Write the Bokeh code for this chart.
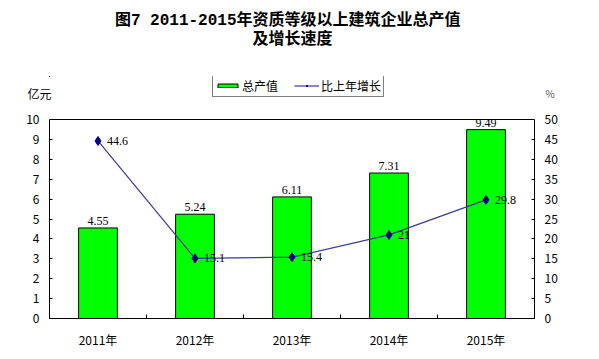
from bokeh.plotting import figure
from bokeh.layouts import column
from bokeh.models import (ColumnDataSource, Range1d, LinearAxis, FixedTicker,
                          LabelSet, Label, Legend, LegendItem, Span)
from bokeh.embed import file_html
from bokeh.resources import INLINE

years = ["2011年", "2012年", "2013年", "2014年", "2015年"]
output = [4.55, 5.24, 6.11, 7.31, 9.49]
growth = [44.6, 15.1, 15.4, 21.0, 29.8]
left_ticks = list(range(0, 11))
right_ticks = list(range(0, 51, 5))
left_max = 10
right_max = 50
title_line1 = "图7  2011-2015年资质等级以上建筑企业总产值"
title_line2 = "及增长速度"

CJK = "Noto Sans CJK SC"
MONO = "Liberation Mono"
TITLE_FONT = "'Liberation Mono', 'Noto Sans CJK SC'"
BAR_FILL = "#00FF00"
LINE_COL = "#3b3b96"
MARK_COL = "#000080"

W = 599
TOP_H = 60           # title strip
HEAD_TOP = 76        # page y where the legend row starts
HEAD_END = 110       # page y where the main chart starts
MAIN_H = 359 - HEAD_END
FRAME_LEFT = 49
FRAME_RIGHT = 534
FRAME_TOP = 119      # page y of the value-10 line
FRAME_BOTTOM = 318   # page y of the zero line

xs = list(range(len(years)))
src = ColumnDataSource(dict(
    x=xs, out=output, gr=growth,
    out_txt=["%.2f" % v for v in output],
    gr_txt=["%g" % v for v in growth],
))


def strip(height, y_top, y_bottom, border_top):
    f = figure(width=W, height=height, output_backend="svg", toolbar_location=None,
               x_range=Range1d(FRAME_LEFT, FRAME_RIGHT),
               y_range=Range1d(y_bottom, y_top),
               x_axis_location=None, y_axis_location=None,
               min_border_left=FRAME_LEFT, min_border_right=W - FRAME_RIGHT,
               min_border_top=border_top, min_border_bottom=0)
    f.outline_line_color = None
    f.xgrid.visible = False
    f.ygrid.visible = False
    return f


# ---------------- title strip ----------------
top = strip(TOP_H, 0, TOP_H, 0)
top.add_layout(Label(x=292, y=20, text=title_line1, text_align="center",
                     text_baseline="middle", text_font=TITLE_FONT,
                     text_font_size="16px", text_font_style="bold",
                     text_color="black"))
top.add_layout(Label(x=292, y=39.5, text=title_line2, text_align="center",
                     text_baseline="middle", text_font=TITLE_FONT,
                     text_font_size="16px", text_font_style="bold",
                     text_color="black"))

# ---------------- legend / unit strip ----------------
head = strip(HEAD_END - TOP_H, HEAD_TOP, HEAD_END, HEAD_TOP - TOP_H)


def unit_axis(label, standoff, size, color):
    return LinearAxis(ticker=FixedTicker(ticks=[]),
                      axis_label=label, axis_label_orientation="horizontal",
                      axis_label_standoff=standoff, major_label_standoff=0,
                      major_tick_in=0, major_tick_out=0, minor_tick_in=0,
                      minor_tick_out=0, axis_line_color=None,
                      major_tick_line_color=None, minor_tick_line_color=None,
                      axis_label_text_font=CJK, axis_label_text_font_size=size,
                      axis_label_text_font_style="normal",
                      axis_label_text_color=color)


head.add_layout(unit_axis("亿元", -2, "12px", "black"), "left")
head.add_layout(unit_axis("%", 11, "10px", "#555555"), "right")

# legend proxies share the real data but sit on a range that is far out of view
head.extra_y_ranges = {"hide": Range1d(-1e6, -1e6 + 1)}
lg_bar = head.vbar(x="x", top="out", width=0.4, source=src, y_range_name="hide",
                   fill_color=BAR_FILL, line_color="black", line_width=1)
lg_line = head.line(x="x", y="gr", source=src, y_range_name="hide",
                    line_color=LINE_COL, line_width=1.2)
lg_mark = head.scatter(x="x", y="gr", source=src, y_range_name="hide",
                       marker="diamond", size=8,
                       fill_color=MARK_COL, line_color=MARK_COL)
legend = Legend(items=[LegendItem(label="总产值", renderers=[lg_bar]),
                       LegendItem(label="比上年增长", renderers=[lg_line, lg_mark])],
                location=(212 - FRAME_LEFT, HEAD_END - 97), orientation="horizontal",
                border_line_color="black", border_line_width=1,
                background_fill_color="white", background_fill_alpha=1,
                padding=2, margin=0, spacing=16, label_standoff=2,
                glyph_width=25, glyph_height=5, label_height=14,
                label_text_font=CJK, label_text_font_size="12px",
                label_text_color="black")
head.add_layout(legend, "center")

# ---------------- main chart ----------------
frame_h = FRAME_BOTTOM - HEAD_END
scale_up = frame_h / (FRAME_BOTTOM - FRAME_TOP)

p = figure(width=W, height=MAIN_H, output_backend="svg", toolbar_location=None,
           x_range=Range1d(-0.5, len(years) - 0.5),
           y_range=Range1d(0, left_max * scale_up),
           min_border_left=FRAME_LEFT, min_border_right=W - FRAME_RIGHT,
           min_border_top=0, min_border_bottom=359 - FRAME_BOTTOM,
           background_fill_color="white", border_fill_color="white")
p.outline_line_color = None
p.xgrid.visible = False
p.ygrid.visible = False
p.extra_y_ranges = {"pct": Range1d(0, right_max * scale_up)}

xa = p.xaxis[0]
xa.ticker = FixedTicker(ticks=xs, minor_ticks=[i + 0.5 for i in xs[:-1]])
xa.major_label_overrides = {i: y for i, y in zip(xs, years)}
xa.major_tick_in = 0
xa.major_tick_out = 0
xa.minor_tick_in = 4
xa.minor_tick_out = 0
xa.minor_tick_line_color = "black"
xa.axis_line_color = "black"
xa.major_label_standoff = 12
xa.major_label_text_font = CJK
xa.major_label_text_font_size = "12px"
xa.major_label_text_color = "black"

ya = p.yaxis[0]
ya.ticker = FixedTicker(ticks=left_ticks)
ya.bounds = (0, left_max)
ya.major_tick_in = 3
ya.major_tick_out = 0
ya.minor_tick_line_color = None
ya.axis_line_color = "black"
ya.major_tick_line_color = "black"
ya.major_label_standoff = 10
ya.major_label_text_font = CJK
ya.major_label_text_font_size = "12px"
ya.major_label_text_color = "black"

ra = LinearAxis(y_range_name="pct", ticker=FixedTicker(ticks=right_ticks),
                bounds=(0, right_max))
ra.major_tick_in = 3
ra.major_tick_out = 0
ra.minor_tick_line_color = None
ra.axis_line_color = "black"
ra.major_tick_line_color = "black"
ra.major_label_standoff = 10
ra.major_label_text_font = CJK
ra.major_label_text_font_size = "12px"
ra.major_label_text_color = "black"
p.add_layout(ra, "right")

# top border of the plot box
p.add_layout(Span(location=left_max, dimension="width", line_color="black",
                  line_width=1))

p.vbar(x="x", top="out", width=0.4, bottom=0, source=src,
       fill_color=BAR_FILL, line_color="black", line_width=1)
p.line(x="x", y="gr", source=src, y_range_name="pct",
       line_color=LINE_COL, line_width=1.2)
p.scatter(x="x", y="gr", source=src, y_range_name="pct", marker="diamond",
          size=9, fill_color=MARK_COL, line_color=MARK_COL)

p.add_layout(LabelSet(x="x", y="out", text="out_txt", source=src,
                      text_align="center", text_baseline="bottom", y_offset=3,
                      text_font=MONO, text_font_size="12px", text_color="black"))
p.add_layout(LabelSet(x="x", y="gr", text="gr_txt", source=src, y_range_name="pct",
                      text_align="left", text_baseline="middle", x_offset=9,
                      text_font=MONO, text_font_size="12px", text_color="black"))

layout = column(top, head, p, spacing=0)
open("out.html", "w").write(file_html(layout, INLINE))
